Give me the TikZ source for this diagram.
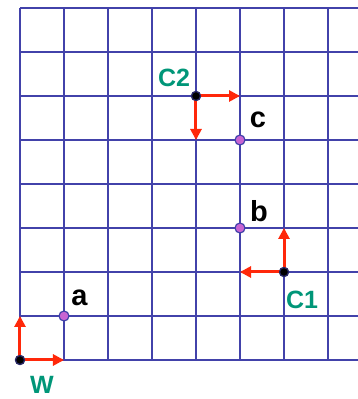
\documentclass[tikz,border=0pt]{standalone}
\usepackage{fontspec}
\setmainfont{Liberation Sans}
\usepackage{tikz}
\usetikzlibrary{arrows.meta}
\usetikzlibrary{positioning}
\definecolor{gridblue}{RGB}{66,66,170}
\definecolor{dotpink}{RGB}{200,100,210}
\definecolor{arrred}{RGB}{255,40,10}
\definecolor{framegreen}{RGB}{0,150,120}

\begin{document}
\begin{tikzpicture}[
                x = 44pt, y = 44pt,
                gridline/.style = {draw = gridblue, line width = 2.8pt,
                  xstep = 44pt, ystep = 44pt},
                axis/.style = {draw = arrred, line width = 3pt,
                  -{Triangle[length = 11pt, width = 11pt]}},
                origin/.style = {circle, fill = black, draw = gridblue!60!black,
                  line width = 1.2pt, inner sep = 0pt, minimum size = 9pt},
                spot/.style = {circle, fill = dotpink, draw = gridblue,
                  line width = 1.2pt, inner sep = 0pt, minimum size = 10pt},
                frame/.style = {text = framegreen, font = \bfseries\fontsize{25}{25}\selectfont,
                  inner sep = 0pt},
                letter/.style = {text = black, font = \bfseries\fontsize{29}{29}\selectfont,
                  inner sep = 0pt}
                ]
                \useasboundingbox (-0.4545,-0.8864) rectangle (7.6818,8.1818);

              % Grid
              \draw[gridline] (0,0) grid (7.6818,8);

              % Frames and points
              \node[origin] (W)  at (0,0) {};
              \node[origin] (C1) at (6,2) {};
              \node[origin] (C2) at (4,6) {};
              \node[spot]   (a)  at (1,1) {};
              \node[spot]   (b)  at (5,3) {};
              \node[spot]   (c)  at (5,5) {};

              \coordinate (Wx)  at (1,0);
              \coordinate (Wy)  at (0,1);
              \coordinate (C1x) at (5,2);
              \coordinate (C1y) at (6,3);
              \coordinate (C2x) at (5,6);
              \coordinate (C2y) at (4,5);

              % Axes
              \draw[axis] (W.center)  -- (Wx);
              \draw[axis] (W.center)  -- (Wy);
              \draw[axis] (C1.center) -- (C1x);
              \draw[axis] (C1.center) -- (C1y);
              \draw[axis] (C2.center) -- (C2x);
              \draw[axis] (C2.center) -- (C2y);

              % redraw dots on top of the arrows
              \node[origin] at (W)  {};
              \node[origin] at (C1) {};
              \node[origin] at (C2) {};

              % Labels
              \node[frame]  (lW)  at (0.50,-0.56) {W};
              \node[frame]  (lC1) at (6.41,1.36)  {C1};
              \node[frame]  (lC2) at (3.50,6.41)  {C2};
              \node[letter] (la)  at (1.35,1.41)  {a};
              \node[letter] (lb)  at (5.43,3.38)  {b};
              \node[letter] (lc)  at (5.41,5.45)  {c};
            \end{tikzpicture}
\end{document}
